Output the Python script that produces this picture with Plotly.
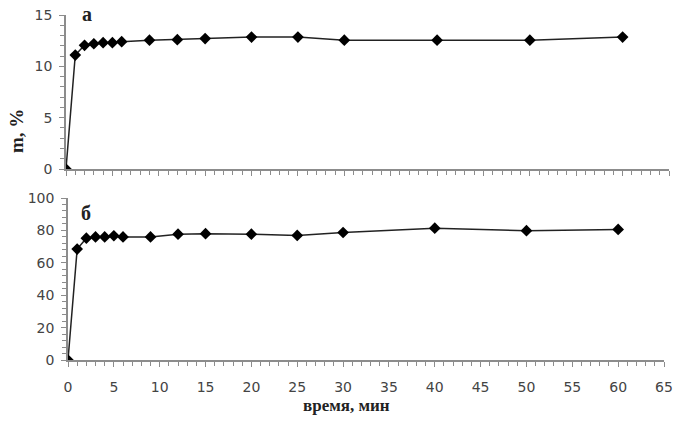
import plotly.graph_objects as go

time_a = [0, 1, 2, 3, 4, 5, 6, 9, 12, 15, 20, 25, 30, 40, 50, 60]
m_a = [0, 11.1, 12.05, 12.2, 12.3, 12.3, 12.4, 12.55, 12.6, 12.7, 12.85, 12.85, 12.55, 12.55, 12.55, 12.85]
time_b = [0, 1, 2, 3, 4, 5, 6, 9, 12, 15, 20, 25, 30, 40, 50, 60]
m_b = [0, 68.5, 75.2, 76.0, 76.0, 76.7, 76.0, 76.0, 77.7, 78.0, 77.7, 76.9, 78.7, 81.4, 79.8, 80.6]

x_ticks = [0, 5, 10, 15, 20, 25, 30, 35, 40, 45, 50, 55, 60, 65]
ya_ticks = [0, 5, 10, 15]
yb_ticks = [0, 20, 40, 60, 80, 100]

W, H = 683, 426
AXC = "#8c8c8c"
TICKFONT = dict(family="DejaVu Sans", size=14, color="#444444")

fig = go.Figure()
mk = dict(symbol="diamond", size=9, color="black")
fig.add_trace(go.Scatter(x=time_a, y=m_a, mode="lines+markers", marker=mk,
                         line=dict(color="#222222", width=1.5), xaxis="x", yaxis="y", showlegend=False))
fig.add_trace(go.Scatter(x=time_b, y=m_b, mode="lines+markers", marker=mk,
                         line=dict(color="#222222", width=1.5), xaxis="x2", yaxis="y2", showlegend=False))

def xd(a, b):
    return [a / W, b / W]

def yd(top, bot):
    return [1 - bot / H, 1 - top / H]

common_x = dict(range=[0, 65], showgrid=False, zeroline=False, showline=True, linecolor=AXC, linewidth=1.5,
                ticks="outside", ticklen=5, tickcolor=AXC, tickvals=x_ticks, automargin=False,
                minor=dict(dtick=1, ticks="outside", ticklen=4, tickcolor=AXC, showgrid=False))
common_y = dict(showgrid=False, zeroline=False, showline=True, linecolor=AXC, linewidth=1.5,
                ticks="outside", ticklen=5, tickcolor=AXC, tickfont=TICKFONT, automargin=False,
                ticklabelstandoff=4)

fig.update_layout(
    width=W, height=H, margin=dict(l=0, r=0, t=0, b=0),
    paper_bgcolor="white", plot_bgcolor="white",
    xaxis=dict(domain=xd(66, 669), anchor="y", showticklabels=False, **common_x),
    yaxis=dict(domain=yd(15, 169), anchor="x", range=[0, 15], tickvals=ya_ticks,
               minor=dict(dtick=1, ticks="outside", ticklen=4, tickcolor=AXC, showgrid=False), **common_y),
    xaxis2=dict(domain=xd(68, 664), anchor="y2", tickfont=TICKFONT, ticklabelstandoff=8, **common_x),
    yaxis2=dict(domain=yd(198, 360), anchor="x2", range=[0, 100], tickvals=yb_ticks,
                minor=dict(dtick=4, ticks="outside", ticklen=4, tickcolor=AXC, showgrid=False), **common_y),
)

ann = dict(xref="paper", yref="paper", showarrow=False, xanchor="center", yanchor="middle")
fig.add_annotation(text="<b>а</b>", x=87 / W, y=1 - 14 / H,
                   font=dict(family="Liberation Serif", size=20, color="#222222"), **ann)
fig.add_annotation(text="<b>б</b>", x=86 / W, y=1 - 213 / H,
                   font=dict(family="Liberation Serif", size=20, color="#222222"), **ann)
fig.add_annotation(text="<b>m, %</b>", x=16 / W, y=1 - 131 / H, textangle=-90,
                   font=dict(family="Liberation Serif", size=19, color="#222222"), **ann)
fig.add_annotation(text="<b>время, мин</b>", x=346 / W, y=1 - 405 / H,
                   font=dict(family="Liberation Serif", size=17, color="#222222"), **ann)

fig.write_html("out.html", config={"displayModeBar": False},
               post_script="document.body.style.margin='0';document.body.style.overflow='hidden';")
